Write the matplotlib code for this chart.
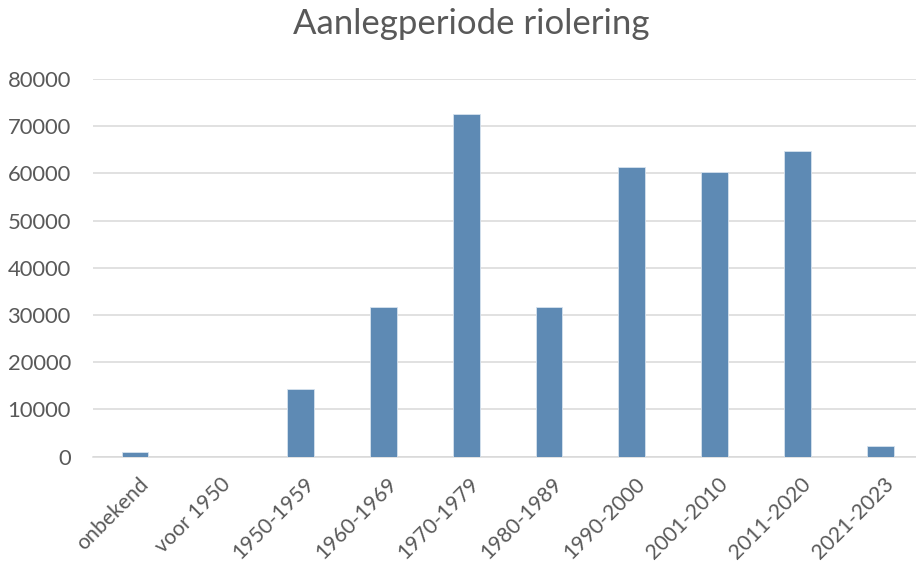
import matplotlib
matplotlib.use("Agg")
import matplotlib.pyplot as plt
from matplotlib.transforms import ScaledTranslation

categories = ["onbekend", "voor 1950", "1950-1959", "1960-1969", "1970-1979",
              "1980-1989", "1990-2000", "2001-2010", "2011-2020", "2021-2023"]
values = [950, 0, 14350, 31700, 72600, 31700, 61450, 60250, 64800, 2280]
yticks = [0, 10000, 20000, 30000, 40000, 50000, 60000, 70000, 80000]

plt.rcParams['font.family'] = ['Lato', 'DejaVu Sans']
W, H = 916, 563
fig = plt.figure(figsize=(W / 100, H / 100), dpi=100)
left, right, bottom, top = 93, 916, 456.7, 79
ax = fig.add_axes([left / W, 1 - bottom / H, (right - left) / W, (bottom - top) / H])

x = list(range(len(categories)))
ax.bar(x, values, width=0.326, color="#5E8AB4", edgecolor="#D6E2EE", linewidth=0.6, zorder=3)

ax.set_ylim(0, 80000)
ax.set_xlim((left - 135) / 82.8, (right - 135) / 82.8)
ax.set_yticks(yticks)
ax.set_yticklabels([str(v) for v in yticks])
ax.grid(axis="y", color="#D9D9D9", linewidth=1.1, zorder=0)
ax.set_axisbelow(True)
for s in ["top", "right", "left"]:
    ax.spines[s].set_visible(False)
ax.spines["bottom"].set_color("#D9D9D9")
ax.spines["bottom"].set_linewidth(1.1)
ax.tick_params(axis="both", length=0, colors="#595959")
ax.tick_params(axis="y", pad=16, labelsize=15.8)
ax.set_xticks(x)
ax.set_xticklabels(categories, rotation=45, ha="right", va="top",
                   rotation_mode="anchor", fontsize=15.2)
ax.tick_params(axis="x", pad=12.5)
off = ScaledTranslation(3 / 100, 0, fig.dpi_scale_trans)
for lab in ax.get_xticklabels():
    lab.set_transform(lab.get_transform() + off)

fig.text(471.5 / W, 1 - 34 / H, "Aanlegperiode riolering", ha="center", va="baseline",
         fontsize=25, color="#595959")

fig.savefig("out.png", dpi=100, facecolor="white")
